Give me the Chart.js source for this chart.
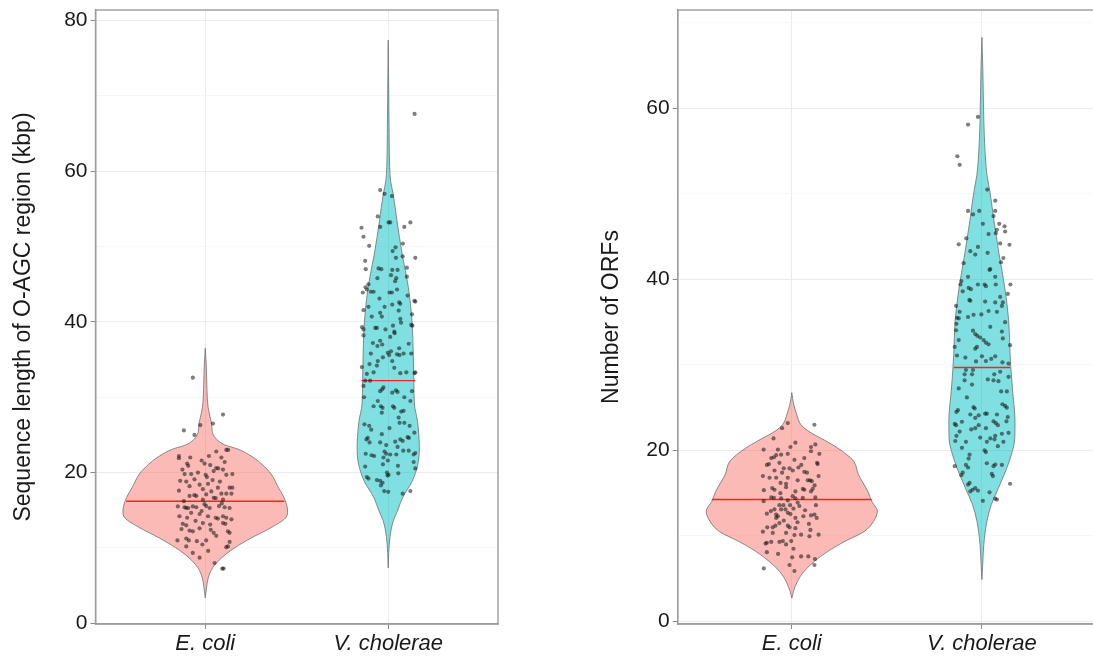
<!DOCTYPE html>
<html>
<head>
<meta charset="utf-8">
<script src="https://cdn.jsdelivr.net/npm/chart.js@4"></script>
<style>
  html, body { margin: 0; padding: 0; background: #fff; overflow: hidden; width: 1093px; height: 659px; }
  canvas { position: absolute; top: 0; }
  #lenChart { left: 0; }
  #orfChart { left: 560px; }
</style>
</head>
<body>
<canvas id="lenChart" width="510" height="659"></canvas>
<canvas id="orfChart" width="540" height="659"></canvas>
<script>
const groups = ['E. coli', 'V. cholerae'];

// ---- left panel: sequence length (kbp) ----
const lenTicks = [0, 10, 20, 30, 40, 50, 60, 70, 80];

// violin outline: y value and half width (in category units)
const lenEcoliY = [3.36, 4.7, 6.0, 7.35, 8.7, 10.0, 11.3, 12.7, 14.0, 14.9, 16.7, 18.0, 19.8, 21.1, 22.2, 23.1, 23.7, 24.6, 25.5, 26.4, 27.3, 28.6, 29.9, 32.2, 34.4, 36.5];
const lenEcoliW = [0, 0.007, 0.016, 0.04, 0.09, 0.16, 0.25, 0.36, 0.44, 0.45, 0.43, 0.40, 0.36, 0.31, 0.25, 0.18, 0.104, 0.055, 0.038, 0.035, 0.027, 0.016, 0.011, 0.008, 0.005, 0];
const lenVcholY = [7.35, 9.4, 11.5, 13.55, 15.0, 16.65, 18.9, 21.1, 23.3, 26.8, 29.1, 32.2, 35.7, 40.1, 44.6, 49.0, 53.4, 57.0, 58.7, 60.5, 65, 70, 77.4];
const lenVcholW = [0, 0.003, 0.01, 0.027, 0.052, 0.078, 0.132, 0.162, 0.17, 0.16, 0.143, 0.14, 0.137, 0.13, 0.11, 0.076, 0.048, 0.027, 0.013, 0.008, 0.005, 0.003, 0];
const lenMedians = [16.2, 32.2];
const lenMedianW = [0.432, 0.146];

// jittered points: [offset from category, value]
const lenEcoliPts = [
  [-0.068,32.6],[0.097,27.7],[0.042,26.5],[-0.027,26.3],[-0.117,25.6],[-0.059,25.0],[0.115,23.0],[0.125,23.0],
  [0.06,22.8],[-0.144,22.2],[-0.144,21.9],[-0.082,22.0],[0.02,22.2],[0.088,22.0],[0.106,21.4],[-0.004,21.2],
  [0.027,21.0],[-0.099,21.2],[-0.093,20.9],[0.06,20.6],[0.071,20.55],[0.097,20.4],[0.046,20.2],[-0.04,20.0],
  [-0.113,19.8],[-0.077,19.8],[0.002,19.7],[0.009,19.4],[0.148,19.8],[0.115,19.7],[-0.137,18.9],[-0.104,18.8],
  [-0.059,19.1],[-0.031,18.4],[0.015,18.5],[0.069,18.0],[0.133,18.0],[0.148,18.0],[-0.086,18.2],[-0.013,17.8],
  [0.033,17.5],[-0.144,17.6],[0.088,17.2],[0.115,17.2],[0.143,17.2],[-0.086,16.9],[-0.049,16.9],[0.005,17.1],
  [0.046,16.65],[0.057,16.6],[0.097,16.4],[-0.117,16.2],[-0.013,16.4],[-0.15,15.5],[-0.113,15.4],[-0.104,15.3],
  [-0.093,15.3],[-0.068,15.5],[-0.049,15.4],[-0.004,15.8],[0.005,15.55],[0.024,15.3],[0.075,15.55],[0.106,15.4],
  [0.133,15.3],[-0.141,14.2],[-0.077,14.66],[-0.031,14.5],[0.015,14.2],[0.057,14.0],[0.069,13.9],[0.097,14.2],
  [0.115,14.0],[0.143,13.8],[-0.099,14.0],[-0.053,13.6],[-0.123,13.2],[-0.104,13.0],[-0.013,13.3],[0.027,13.1],
  [0.097,13.3],[0.11,13.2],[-0.086,12.3],[-0.068,12.2],[-0.031,12.6],[0.046,12.0],[0.06,11.6],[0.124,12.2],
  [0.133,12.0],[-0.152,11.0],[-0.104,11.25],[-0.09,11.0],[-0.046,10.9],[0.005,11.0],[-0.016,10.45],[0.115,10.1],
  [0.124,10.2],[0.133,10.8],[-0.104,10.2],[0.016,9.6],[-0.068,9.34],[-0.031,8.7],[0.051,8.0],[0.093,7.26],[0.1,7.26],
  [-0.125,20.4],[-0.02,21.6],[0.04,19.0],[-0.06,17.0],[0.09,15.9],[-0.02,14.9],[0.03,12.4],[-0.13,12.5],[0.08,18.8]
];
const lenVcholPts = [
  [0.144,67.6],[-0.044,57.5],[-0.02,57.0],[0.02,56.7],[-0.057,54.0],[0.002,53.2],[0.011,53.2],[0.121,53.2],
  [-0.146,52.5],[-0.044,52.6],[0.088,52.6],[-0.135,51.3],[-0.104,50.1],[0.08,50.4],[0.024,49.4],[0.04,49.9],
  [0.148,48.5],[-0.126,48.1],[0.042,48.5],[0.079,48.7],[-0.123,47.0],[-0.053,47.1],[-0.038,47.0],[0.022,46.9],
  [0.051,46.9],[0.102,47.2],[-0.059,45.8],[0.015,46.2],[0.044,45.8],[0.038,45.4],[0.102,46.0],[-0.108,45.0],
  [-0.124,44.6],[-0.117,44.3],[0.048,44.3],[-0.095,44.0],[-0.08,44.0],[0.02,43.9],[0.007,43.9],[-0.139,43.9],
  [0.106,43.5],[-0.048,43.1],[0.143,42.8],[0.148,42.7],[0.022,42.3],[0.06,42.6],[0.066,42.4],[-0.02,42.0],
  [-0.108,42.0],[0.057,41.5],[-0.044,41.2],[-0.035,40.7],[0.13,41.0],[-0.135,41.55],[-0.09,40.7],[0.066,40.4],
  [0.126,39.6],[0.132,39.5],[-0.143,39.3],[-0.135,39.0],[-0.135,38.2],[-0.071,39.2],[-0.062,39.2],[-0.015,39.0],
  [0.026,39.5],[0.07,39.9],[0.033,38.7],[0.035,38.5],[0.011,38.0],[-0.044,37.5],[-0.033,37.0],[-0.084,37.2],
  [0.112,37.1],[-0.059,36.8],[0.06,36.5],[-0.002,35.9],[0.015,36.1],[0.126,35.8],[-0.095,35.8],[0.048,35.7],
  [0.062,35.6],[0.084,35.8],[0.005,35.6],[-0.029,35.3],[-0.057,34.8],[0.022,34.8],[-0.102,34.4],[-0.062,34.2],
  [-0.144,34.0],[0.033,33.9],[0.099,33.3],[0.066,33.2],[0.148,33.3],[0.144,33.2],[-0.117,33.1],[-0.08,33.3],
  [-0.126,32.2],[-0.099,32.2],[-0.135,31.5],[-0.044,30.8],[-0.033,31.05],[-0.026,31.3],[0.042,30.9],[0.051,30.7],
  [0.022,30.6],[0.13,30.8],[-0.132,30.0],[0.088,30.0],[-0.057,29.5],[-0.04,28.8],[-0.031,28.6],[-0.08,28.8],
  [0.026,28.8],[0.033,28.6],[0.121,29.5],[0.071,28.1],[0.084,28.2],[0.057,27.3],[-0.035,27.95],[-0.13,26.4],
  [-0.104,26.2],[-0.093,25.7],[0.007,25.9],[0.062,26.6],[0.088,26.6],[0.117,26.2],[0.143,25.3],[-0.112,24.6],
  [-0.119,24.4],[-0.035,25.1],[0.106,24.7],[0.113,24.6],[0.066,24.4],[0.079,24.2],[0.038,24.1],[-0.102,24.0],
  [-0.044,24.0],[-0.011,23.65],[0.051,23.4],[0.082,22.9],[0.112,22.9],[0.148,22.6],[0.139,22.4],[-0.123,22.5],
  [-0.091,22.3],[-0.077,22.2],[-0.02,22.8],[-0.011,22.5],[0.011,22.4],[0.044,22.4],[-0.026,22.0],[-0.002,21.6],
  [-0.029,21.1],[-0.126,20.8],[0.053,20.9],[0.139,21.4],[0.148,20.55],[-0.007,20.0],[0.002,19.7],[0.055,19.9],
  [-0.117,19.4],[-0.108,19.2],[-0.062,19.0],[-0.044,18.9],[-0.031,18.65],[-0.04,18.3],[-0.004,19.6],[-0.022,17.55],
  [0.0,17.45],[0.079,17.2],[0.121,17.55]
];

// ---- right panel: number of ORFs ----
const orfTicks = [0, 10, 20, 30, 40, 50, 60, 70];

const orfEcoliY = [2.73, 3.5, 4.69, 5.86, 7.03, 8.2, 9.37, 10.5, 11.7, 12.9, 14.06, 15.2, 17.2, 18.75, 20.3, 21.1, 22.3, 23.05, 24.2, 25.4, 26.75];
const orfEcoliW = [0, 0.009, 0.03, 0.065, 0.12, 0.19, 0.28, 0.38, 0.43, 0.45, 0.42, 0.40, 0.35, 0.325, 0.24, 0.18, 0.084, 0.047, 0.026, 0.01, 0];
const orfVcholY = [4.9, 7, 9, 11.7, 13.7, 15.6, 18.75, 21.5, 23.4, 27.3, 31.25, 35.15, 39.05, 43.0, 46.9, 50.0, 52.3, 54.7, 58.6, 64.5, 68.3];
const orfVcholW = [0, 0.005, 0.01, 0.026, 0.05, 0.087, 0.144, 0.173, 0.174, 0.16, 0.148, 0.141, 0.12, 0.09, 0.063, 0.044, 0.026, 0.017, 0.01, 0.005, 0];
const orfMedians = [14.26, 29.7];
const orfMedianW = [0.42, 0.148];

const orfEcoliPts = [
  [-0.021,23.2],[-0.051,22.6],[0.119,23.0],[-0.096,21.4],[0.019,20.9],[-0.007,20.4],[0.101,20.4],[0.124,20.7],
  [-0.148,20.1],[-0.073,20.1],[-0.108,19.1],[-0.094,19.2],[-0.082,19.45],[-0.056,19.5],[-0.021,19.6],[0.066,19.1],
  [0.145,19.6],[0.101,19.9],[-0.131,18.3],[-0.12,18.4],[-0.065,18.55],[0.014,18.9],[0.133,18.55],[0.136,18.4],
  [0.035,18.0],[-0.042,17.9],[-0.012,17.9],[0.066,17.5],[0.08,17.4],[-0.091,17.65],[0.005,17.65],[-0.051,17.4],
  [-0.152,17.0],[-0.117,16.8],[-0.082,16.8],[-0.021,16.8],[0.031,16.5],[0.084,16.5],[0.096,16.5],[0.105,16.4],
  [0.141,17.0],[-0.059,16.2],[-0.103,15.6],[-0.091,15.4],[-0.147,15.35],[-0.03,15.7],[0.058,15.5],[0.066,15.4],
  [0.019,15.2],[0.101,15.2],[0.11,15.5],[-0.108,14.5],[-0.094,14.45],[-0.056,14.4],[0.005,14.65],[0.019,14.4],
  [-0.021,14.15],[0.058,14.45],[0.124,14.5],[-0.065,13.6],[-0.044,13.6],[-0.009,13.6],[0.031,13.9],[0.04,13.5],
  [0.127,13.6],[-0.148,14.06],[-0.091,13.1],[-0.056,13.1],[-0.033,13.1],[0.009,13.2],[-0.131,12.6],[-0.082,12.5],
  [-0.073,12.3],[-0.082,12.1],[-0.021,12.7],[-0.007,12.55],[0.061,12.3],[0.101,12.4],[0.119,12.5],[0.131,12.1],
  [-0.042,11.8],[0.019,12.1],[-0.021,11.2],[-0.012,11.0],[-0.065,11.5],[-0.1,11.0],[-0.086,11.2],[0.019,10.9],
  [-0.129,11.0],[-0.152,10.5],[0.098,10.7],[-0.1,10.35],[-0.03,10.35],[0.014,10.1],[0.049,10.15],[0.141,10.15],
  [0.093,9.95],[-0.065,9.3],[-0.047,9.4],[-0.138,9.1],[-0.131,9.2],[-0.003,9.4],[-0.108,9.3],[-0.03,9.0],
  [0.009,8.5],[-0.131,8.1],[-0.072,7.9],[0.002,7.5],[0.049,7.6],[0.087,7.6],[0.122,7.3],[0.119,6.6],
  [-0.012,6.6],[-0.147,6.2],[0.014,5.9],
  [0.05,18.3],[-0.03,16.1],[0.07,13.0],[-0.11,12.9],[0.03,11.6],[0.12,15.9],[-0.06,15.0],[0.09,11.4]
];
const orfVcholPts = [
  [-0.021,59.0],[-0.073,58.1],[-0.129,54.4],[-0.117,53.4],[0.028,50.5],[0.07,49.2],[0.07,48.0],[0.061,47.4],
  [-0.073,48.0],[-0.047,47.6],[-0.014,48.0],[0.091,46.5],[0.119,46.2],[0.122,45.6],[0.079,45.8],[0.073,45.4],
  [0.005,46.5],[0.035,45.3],[-0.082,44.8],[0.096,44.2],[-0.122,44.1],[0.145,44.05],[-0.061,43.3],[-0.035,42.9],
  [-0.021,43.8],[0.03,43.1],[0.113,42.5],[-0.096,41.9],[0.1,42.0],[0.044,41.2],[0.04,41.1],[-0.073,40.3],
  [0.07,40.3],[-0.108,39.8],[-0.113,39.4],[-0.021,39.4],[0.014,39.4],[0.021,39.2],[0.073,39.4],[0.15,39.4],
  [-0.07,39.0],[-0.058,38.85],[-0.101,38.6],[0.136,38.3],[0.096,37.95],[-0.066,37.6],[-0.061,37.5],[0.017,37.4],
  [0.07,37.3],[0.11,37.3],[0.105,36.9],[-0.136,36.9],[-0.117,36.2],[-0.044,35.85],[-0.003,35.9],[0.035,36.3],
  [0.079,36.2],[-0.131,35.5],[-0.122,35.45],[-0.073,35.6],[0.122,35.0],[-0.134,34.8],[0.044,34.45],[-0.047,34.0],
  [-0.035,33.6],[-0.024,33.4],[-0.136,34.05],[0.105,33.9],[-0.009,33.2],[0.009,32.9],[0.021,32.6],[0.035,32.4],
  [-0.122,32.9],[0.11,33.1],[0.148,32.3],[-0.143,32.1],[-0.035,31.9],[-0.026,32.1],[-0.131,31.1],[0.0,31.0],
  [-0.087,30.85],[0.07,31.0],[0.049,30.7],[-0.031,30.4],[0.021,30.45],[0.108,30.3],[0.14,30.15],[-0.084,29.4],
  [-0.091,28.9],[-0.047,29.4],[-0.052,28.9],[0.065,28.9],[0.096,29.2],[0.14,28.6],[0.031,28.3],[-0.091,28.2],
  [-0.122,27.25],[0.061,28.2],[0.087,28.1],[-0.052,27.7],[0.101,26.9],[0.131,26.9],[-0.079,26.2],[0.108,25.4],
  [0.122,25.2],[0.131,25.0],[-0.044,25.05],[-0.038,24.9],[-0.126,24.7],[-0.134,24.5],[0.079,24.2],[-0.061,24.2],
  [-0.017,24.1],[0.017,24.3],[0.026,24.3],[-0.035,23.8],[0.136,23.9],[0.061,23.4],[0.073,23.2],[-0.143,23.1],
  [-0.136,22.95],[0.084,22.95],[-0.017,22.95],[0.129,23.4],[-0.105,23.35],[-0.056,22.45],[-0.035,22.6],[0.021,22.6],
  [-0.117,22.2],[0.105,21.95],[0.14,22.05],[-0.134,21.7],[-0.14,21.1],[-0.009,21.5],[0.044,21.4],[0.066,21.3],
  [0.07,21.7],[-0.084,21.0],[0.026,21.0],[0.113,21.0],[0.084,20.5],[-0.105,20.3],[-0.065,19.5],[-0.07,19.05],
  [0.014,20.0],[0.021,19.8],[-0.143,18.15],[-0.084,18.3],[-0.073,18.0],[0.026,18.5],[0.061,18.15],[0.07,18.35],
  [0.105,18.3],[-0.101,17.4],[-0.108,17.1],[0.052,17.25],[0.058,17.0],[-0.065,16.2],[-0.073,16.0],[0.148,16.1],
  [-0.035,15.6],[-0.049,15.4],[-0.061,15.2],[-0.021,15.3],[0.04,15.1],[0.005,14.1],[0.07,14.35],[0.079,14.25]
];

const fontFamily = '"Liberation Sans", Arial, sans-serif';
const pinkFill = 'rgba(248, 118, 109, 0.5)';
const cyanFill = 'rgba(0, 191, 196, 0.5)';
const outline = '#707070';
const frameColor = '#9c9c9c';

function violin(center, ys, ws, fillColor) {
  const common = {
    type: 'line',
    indexAxis: 'y',
    borderColor: outline,
    borderWidth: 0.8,
    pointRadius: 0,
    cubicInterpolationMode: 'monotone',
    order: 3
  };
  return [
    { ...common, data: ys.map((y, i) => ({ x: center - ws[i], y: y })), fill: false },
    { ...common, data: ys.map((y, i) => ({ x: center + ws[i], y: y })), fill: '-1', backgroundColor: fillColor }
  ];
}

function medianLine(center, value, halfWidth) {
  return {
    type: 'line',
    data: [{ x: center - halfWidth, y: value }, { x: center + halfWidth, y: value }],
    borderColor: '#ff2020',
    borderWidth: 1.4,
    pointRadius: 0,
    fill: false,
    order: 2
  };
}

function jitter(center, pts) {
  return {
    type: 'scatter',
    data: pts.map(p => ({ x: center + p[0], y: p[1] })),
    pointRadius: 2.1,
    pointBackgroundColor: 'rgba(20, 20, 20, 0.55)',
    pointBorderWidth: 0,
    order: 1
  };
}

const frame = {
  id: 'frame',
  afterDatasetsDraw(chart) {
    const { ctx, chartArea } = chart;
    ctx.save();
    ctx.strokeStyle = frameColor;
    ctx.lineWidth = 1.4;
    ctx.strokeRect(chartArea.left, chartArea.top, chartArea.right - chartArea.left, chartArea.bottom - chartArea.top);
    ctx.restore();
  }
};

function makeChart(id, cfg) {
  new Chart(document.getElementById(id), {
    type: 'line',
    data: { datasets: cfg.datasets },
    plugins: [frame],
    options: {
      responsive: false,
      animation: false,
      indexAxis: 'y',
      layout: { padding: { left: 0, right: cfg.padRight, top: 10, bottom: 0 } },
      plugins: { legend: { display: false }, tooltip: { enabled: false } },
      scales: {
        x: {
          type: 'linear',
          min: 0.4,
          max: 2.6,
          afterBuildTicks: s => { s.ticks = [1, 2].map(v => ({ value: v })); },
          afterFit: s => { s.height = 35; s.paddingLeft = 0; s.paddingRight = 0; },
          ticks: {
            callback: v => groups[v - 1],
            font: { family: fontFamily, size: 22, style: 'italic' },
            color: '#1a1a1a',
            padding: 2,
            maxRotation: 0
          },
          grid: { color: '#ebebeb', lineWidth: 1, tickLength: 5, tickColor: '#8a8a8a' },
          border: { color: frameColor, width: 1.4 }
        },
        y: {
          type: 'linear',
          min: cfg.yMin,
          max: cfg.yMax,
          afterBuildTicks: s => { s.ticks = cfg.ticks.map(v => ({ value: v })); },
          afterFit: s => { s.width = cfg.axisWidth; s.paddingTop = 0; s.paddingBottom = 0; },
          ticks: {
            callback: v => (v % 20 === 0 ? v : ''),
            font: { family: fontFamily, size: 21 },
            color: '#1a1a1a',
            padding: 3
          },
          grid: {
            color: c => (c.tick && c.tick.value % 20 === 0 ? '#ebebeb' : '#f6f6f6'),
            lineWidth: 1,
            tickLength: 5,
            tickColor: c => (c.tick && c.tick.value % 20 === 0 ? '#8a8a8a' : 'rgba(0,0,0,0)')
          },
          border: { color: frameColor, width: 1.4 },
          title: {
            display: true,
            text: cfg.title,
            font: { family: fontFamily, size: 23 },
            color: '#1a1a1a',
            padding: { top: cfg.titlePad, bottom: 0 }
          }
        }
      }
    }
  });
}

makeChart('lenChart', {
  yMin: -0.1, yMax: 81.4, ticks: lenTicks,
  title: 'Sequence length of O-AGC region (kbp)', titlePad: 10,
  axisWidth: 95.5, padRight: 12,
  datasets: [
    jitter(1, lenEcoliPts), jitter(2, lenVcholPts),
    medianLine(1, lenMedians[0], lenMedianW[0]), medianLine(2, lenMedians[1], lenMedianW[1]),
    ...violin(1, lenEcoliY, lenEcoliW, pinkFill),
    ...violin(2, lenVcholY, lenVcholW, cyanFill)
  ]
});

makeChart('orfChart', {
  yMin: -0.3, yMax: 71.5, ticks: orfTicks,
  title: 'Number of ORFs', titlePad: 38,
  axisWidth: 117.7, padRight: 2,
  datasets: [
    jitter(1, orfEcoliPts), jitter(2, orfVcholPts),
    medianLine(1, orfMedians[0], orfMedianW[0]), medianLine(2, orfMedians[1], orfMedianW[1]),
    ...violin(1, orfEcoliY, orfEcoliW, pinkFill),
    ...violin(2, orfVcholY, orfVcholW, cyanFill)
  ]
});
</script>
</body>
</html>
